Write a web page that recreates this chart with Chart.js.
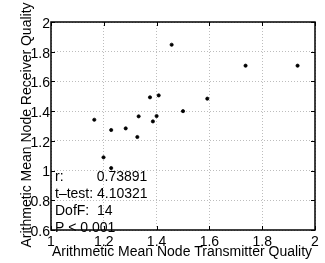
<!DOCTYPE html>
<html>
<head>
<meta charset="utf-8">
<script src="https://cdn.jsdelivr.net/npm/chart.js@4.4.0/dist/chart.umd.min.js"></script>
<style>
  html, body { margin: 0; padding: 0; background: #fff; }
  canvas { display: block; }
</style>
</head>
<body>
<canvas id="qualityChart" width="325" height="263"></canvas>
<script>
// values
const transmitterQuality = [1.164, 1.199, 1.228, 1.228, 1.283, 1.327, 1.332, 1.375, 1.386, 1.400, 1.408, 1.457, 1.500, 1.592, 1.737, 1.934];
const receiverQuality    = [1.342, 1.089, 1.017, 1.273, 1.284, 1.226, 1.365, 1.493, 1.331, 1.367, 1.506, 1.847, 1.400, 1.484, 1.706, 1.706];

const xTicks = [1, 1.2, 1.4, 1.6, 1.8, 2];
const xTickLabels = ['1', '1.2', '1.4', '1.6', '1.8', '2'];
const yTicks = [0.6, 0.8, 1, 1.2, 1.4, 1.6, 1.8, 2];
const yTickLabels = ['0.6', '0.8', '1', '1.2', '1.4', '1.6', '1.8', '2'];

const xTitle = 'Arithmetic Mean Node Transmitter Quality';
const yTitle = 'Arithmetic Mean Node Receiver Quality';
const statLines = ['r:', 't\u2013test: 4.10321', 'DofF:  14', 'P < 0.001'];
const rValue = '0.73891';

const FONT = '14px "Liberation Sans", Arial, Helvetica, sans-serif';

// frame, inward ticks, axis titles and the statistics text
const matlabLook = {
    id: 'matlabLook',
    afterDraw(chart) {
        const { ctx, chartArea: a, scales: { x, y } } = chart;
        ctx.save();
        ctx.strokeStyle = '#000';
        ctx.lineWidth = 1;
        ctx.beginPath();
        xTicks.forEach(v => {
            const px = Math.round(x.getPixelForValue(v)) + 0.5;
            ctx.moveTo(px, a.bottom); ctx.lineTo(px, a.bottom - 4);
            ctx.moveTo(px, a.top); ctx.lineTo(px, a.top + 4);
        });
        yTicks.forEach(v => {
            const py = Math.round(y.getPixelForValue(v)) + 0.5;
            ctx.moveTo(a.left, py); ctx.lineTo(a.left + 4, py);
            ctx.moveTo(a.right, py); ctx.lineTo(a.right - 4, py);
        });
        ctx.stroke();

        ctx.lineWidth = 1.5;
        ctx.strokeRect(a.left, a.top, a.right - a.left, a.bottom - a.top);

        ctx.fillStyle = '#000';
        ctx.font = FONT;
        ctx.textBaseline = 'alphabetic';
        ctx.textAlign = 'center';
        ctx.fillText(xTitle, 182, 256);

        ctx.save();
        ctx.translate(30.5, 125);
        ctx.rotate(-Math.PI / 2);
        ctx.fillText(yTitle, 0, 0);
        ctx.restore();

        ctx.textAlign = 'left';
        statLines.forEach((t, i) => ctx.fillText(t, 55, 181 + i * 17));
        ctx.fillText(rValue, 96.7, 181);
        ctx.restore();
    }
};

const ctx = document.getElementById('qualityChart').getContext('2d');

new Chart(ctx, {
    type: 'scatter',
    data: {
        datasets: [{
            data: transmitterQuality.map((v, i) => ({ x: v, y: receiverQuality[i] })),
            backgroundColor: '#000',
            borderColor: '#000',
            pointRadius: 1.6,
            borderWidth: 0.8
        }]
    },
    options: {
        responsive: false,
        animation: false,
        devicePixelRatio: 1,
        layout: { padding: { top: 22, right: 10, left: 0, bottom: 0 } },
        plugins: {
            legend: { display: false },
            tooltip: { enabled: false }
        },
        scales: {
            x: {
                type: 'linear',
                min: 1,
                max: 2,
                afterBuildTicks: s => { s.ticks = xTicks.map(v => ({ value: v })); },
                afterFit: s => { s.height = 33; },
                ticks: {
                    callback: (v, i) => xTickLabels[i],
                    color: '#000',
                    font: { family: '"Liberation Sans", Arial, Helvetica, sans-serif', size: 14 },
                    padding: 4,
                    maxRotation: 0,
                    autoSkip: false
                },
                grid: { color: '#bdbdbd', lineWidth: 1, drawTicks: false },
                border: { display: false, dash: [1, 2] }
            },
            y: {
                type: 'linear',
                min: 0.6,
                max: 2,
                afterBuildTicks: s => { s.ticks = yTicks.map(v => ({ value: v })); },
                afterFit: s => { s.width = 51; },
                ticks: {
                    callback: (v, i) => yTickLabels[i],
                    color: '#000',
                    font: { family: '"Liberation Sans", Arial, Helvetica, sans-serif', size: 14 },
                    padding: 1,
                    labelOffset: 2,
                    autoSkip: false
                },
                grid: { color: '#bdbdbd', lineWidth: 1, drawTicks: false },
                border: { display: false, dash: [1, 2] }
            }
        }
    },
    plugins: [matlabLook]
});
</script>
</body>
</html>
